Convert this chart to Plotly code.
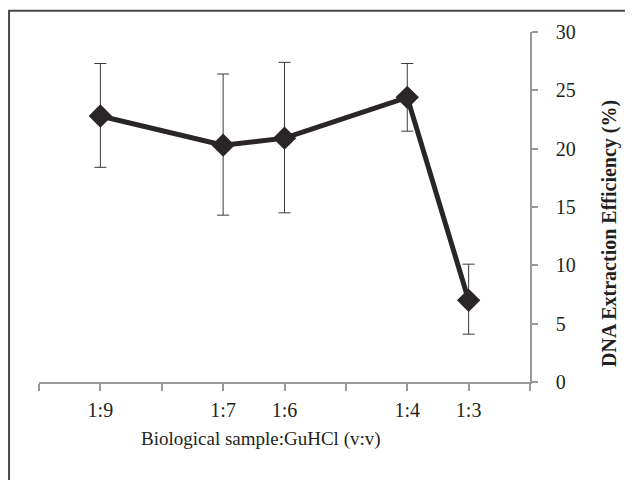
import plotly.graph_objects as go

ratios = [9, 7, 6, 4, 3]
ratio_labels = ["1:9", "1:7", "1:6", "1:4", "1:3"]
efficiency = [22.8, 20.3, 20.9, 24.4, 7.0]
err_plus = [4.5, 6.1, 6.5, 2.9, 3.1]
err_minus = [4.4, 6.0, 6.4, 2.9, 2.9]
axis_ticks = [10, 9, 8, 7, 6, 5, 4, 3, 2]
x_title = "Biological sample:GuHCl (v:v)"
y_title = "<b>DNA Extraction Efficiency (%)</b>"

fig = go.Figure()
fig.add_trace(go.Scatter(
    x=ratios, y=efficiency, mode="lines+markers",
    line=dict(color="#2a2627", width=5),
    marker=dict(symbol="diamond", size=18, color="#2a2627"),
    error_y=dict(type="data", symmetric=False, array=err_plus, arrayminus=err_minus,
                 color="#3a3a3a", thickness=1, width=6),
    showlegend=False,
))

tick_text = [ratio_labels[ratios.index(v)] if v in ratios else "" for v in axis_ticks]

# the page body has an 8px margin, so the figure is sized/positioned to compensate
fig.update_layout(
    width=625, height=472,
    margin=dict(l=31, r=103, t=24, b=98),
    paper_bgcolor="white", plot_bgcolor="white",
    font=dict(family="Liberation Serif", color="#231f20", size=20),
    xaxis=dict(
        range=[10, 2], tickvals=axis_ticks, ticktext=tick_text,
        showgrid=False, zeroline=False, showline=True, linecolor="#999999", linewidth=1.5,
        ticks="outside", ticklen=7, tickcolor="#999999", tickwidth=1.5,
        ticklabelstandoff=2, tickfont=dict(size=20),
        automargin=False,
    ),
    yaxis=dict(
        range=[0, 30], side="right", tickvals=[0, 5, 10, 15, 20, 25, 30],
        showgrid=False, zeroline=False, showline=True, linecolor="#999999", linewidth=1.5,
        ticks="outside", ticklen=6, tickcolor="#999999", tickwidth=1.5,
        ticklabelstandoff=14, tickfont=dict(size=20),
        automargin=False,
    ),
    annotations=[
        dict(text=x_title, xref="paper", yref="paper", x=0.453, y=-0.164,
             xanchor="center", yanchor="middle", showarrow=False, font=dict(size=19)),
        dict(text=y_title, xref="paper", yref="paper", x=1.163, y=0.423, textangle=-90,
             xanchor="center", yanchor="middle", showarrow=False, font=dict(size=20)),
    ],
    shapes=[dict(type="rect", xref="paper", yref="paper",
                 x0=-0.061, x1=1.3, y0=-0.5, y1=1.061,
                 line=dict(color="#4a4a4a", width=2), fillcolor="rgba(0,0,0,0)")],
)

fig.write_html("out.html")
